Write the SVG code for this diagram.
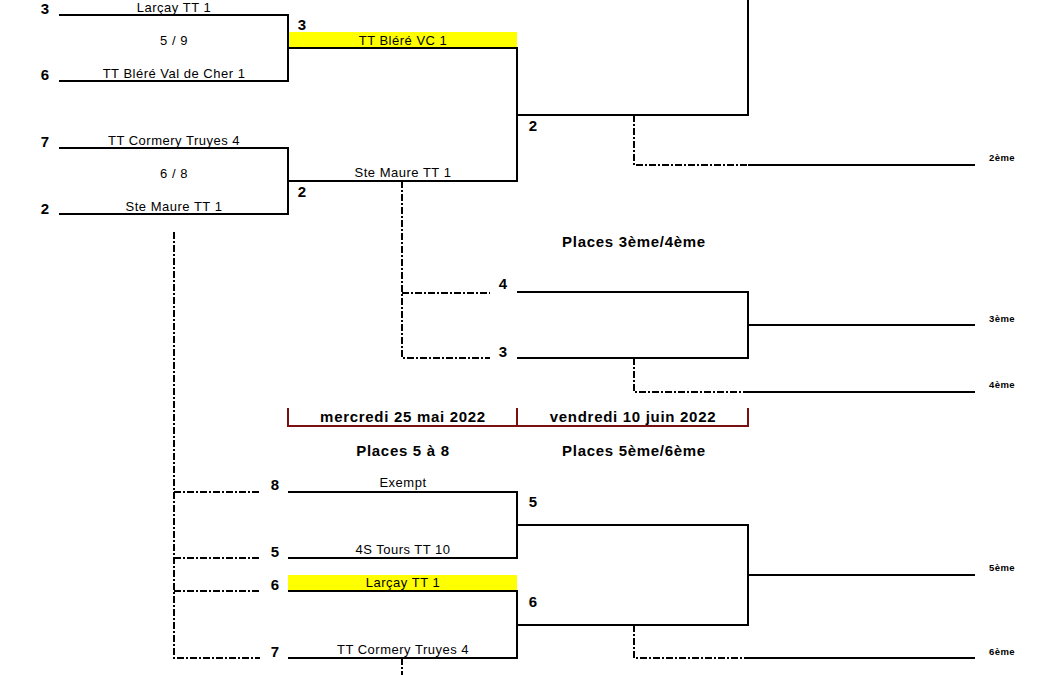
<svg xmlns="http://www.w3.org/2000/svg" width="1058" height="675" viewBox="0 0 1058 675">
<style>
.l{stroke:#000;stroke-width:2;fill:none}
.d{stroke:#000;stroke-width:2;fill:none;stroke-dasharray:7,2,2,2}
.r{stroke:#7a1010;stroke-width:2;fill:none}
.t{font-family:"Liberation Sans",Arial,sans-serif;font-size:13px;letter-spacing:0.5px;text-anchor:middle;fill:#000}
.n{font-family:"Liberation Sans",Arial,sans-serif;font-size:15px;font-weight:bold;text-anchor:middle;fill:#000}
.h{font-family:"Liberation Sans",Arial,sans-serif;font-size:15px;font-weight:bold;letter-spacing:0.7px;text-anchor:middle;fill:#000}
.p{font-family:"Liberation Sans",Arial,sans-serif;font-size:9.5px;font-weight:bold;letter-spacing:0.4px;text-anchor:middle;fill:#000}
.y{fill:#ffff00}
</style>
<rect id="hl1" class="y" x="288" y="32" width="229" height="16"/>
<rect id="hl2" class="y" x="288" y="575" width="229" height="16"/>
<g id="connectors">
<path class="l" d="M59,15H288V81H59"/>
<path class="l" d="M59,148H288V214H59"/>
<path class="l" d="M288,48H517V181H288"/>
<path class="l" d="M517,115H748V0"/>
<path class="d" d="M634,115V165H748"/>
<path class="l" d="M748,165H975"/>
<path class="d" d="M402,181V358H490M402,293H490"/>
<path class="l" d="M517,292H748V358H517"/>
<path class="l" d="M748,325H975"/>
<path class="d" d="M634,358V392H748"/>
<path class="l" d="M748,392H975"/>
<path class="d" d="M174,232V658H260M174,492H260M174,558H260M174,591H260"/>
<path class="l" d="M288,492H517V558H288"/>
<path class="l" d="M288,591H517V658H288"/>
<path class="l" d="M517,525H748V625H517"/>
<path class="l" d="M748,575H975"/>
<path class="d" d="M634,625V658H748"/>
<path class="l" d="M748,658H975"/>
<path class="d" d="M402,658V675"/>
<path class="r" d="M288,408V426H748V408M517,408V426"/>
</g>
<g id="r1a">
<text class="n" x="45" y="14">3</text>
<text class="t" x="174" y="12">Larçay TT 1</text>
<text class="t" x="174" y="45">5 / 9</text>
<text class="n" x="45" y="80">6</text>
<text class="t" x="174" y="78">TT Bléré Val de Cher 1</text>
</g>
<g id="r1b">
<text class="n" x="45" y="147">7</text>
<text class="t" x="174" y="145">TT Cormery Truyes 4</text>
<text class="t" x="174" y="178">6 / 8</text>
<text class="n" x="45" y="214">2</text>
<text class="t" x="174" y="211">Ste Maure TT 1</text>
</g>
<g id="sf">
<text class="n" x="302" y="30">3</text>
<text class="t" x="403" y="45">TT Bléré VC 1</text>
<text class="t" x="403" y="177">Ste Maure TT 1</text>
<text class="n" x="302" y="197">2</text>
</g>
<g id="final">
<text class="n" x="533" y="131">2</text>
<text class="p" x="1002" y="161">2ème</text>
</g>
<g id="p34">
<text class="h" x="634" y="247">Places 3ème/4ème</text>
<text class="n" x="503" y="289">4</text>
<text class="n" x="503" y="357">3</text>
<text class="p" x="1002" y="322">3ème</text>
<text class="p" x="1002" y="388">4ème</text>
</g>
<g id="dates">
<text class="h" x="403" y="422">mercredi 25 mai 2022</text>
<text class="h" x="633" y="422">vendredi 10 juin 2022</text>
</g>
<g id="p58">
<text class="h" x="403" y="456">Places 5 à 8</text>
<text class="h" x="634" y="456">Places 5ème/6ème</text>
<text class="n" x="275" y="490">8</text>
<text class="t" x="403" y="487">Exempt</text>
<text class="n" x="275" y="557">5</text>
<text class="t" x="403" y="554">4S Tours TT 10</text>
<text class="n" x="275" y="590">6</text>
<text class="t" x="403" y="587">Larçay TT 1</text>
<text class="n" x="275" y="657">7</text>
<text class="t" x="403" y="654">TT Cormery Truyes 4</text>
<text class="n" x="533" y="507">5</text>
<text class="n" x="533" y="607">6</text>
<text class="p" x="1002" y="571">5ème</text>
<text class="p" x="1002" y="655">6ème</text>
</g>
</svg>
